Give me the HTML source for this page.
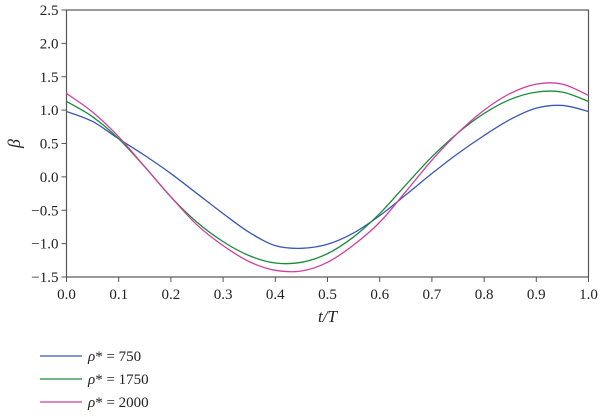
<!DOCTYPE html>
<html><head><meta charset="utf-8"><style>
body{margin:0;background:#fff;}
svg{display:block;font-family:"Liberation Serif",serif;}
</style></head><body>
<svg id="c" width="600" height="417" viewBox="0 0 600 417"></svg>
<script>
const tVals=[0,0.05,0.1,0.15,0.2,0.25,0.3,0.35,0.4,0.45,0.5,0.55,0.6,0.65,0.7,0.75,0.8,0.85,0.9,0.95,1.0];
const blue=[0.98,0.83,0.57,0.32,0.05,-0.25,-0.55,-0.83,-1.03,-1.07,-1.01,-0.84,-0.58,-0.27,0.05,0.35,0.62,0.86,1.03,1.07,0.98];
const green=[1.13,0.9,0.57,0.15,-0.3,-0.68,-0.97,-1.18,-1.29,-1.28,-1.15,-0.9,-0.55,-0.12,0.3,0.66,0.95,1.16,1.27,1.27,1.13];
const pink=[1.25,0.97,0.6,0.15,-0.3,-0.72,-1.03,-1.27,-1.4,-1.41,-1.28,-1.02,-0.68,-0.22,0.25,0.66,1.0,1.25,1.39,1.39,1.22];
const seriesNames=["ρ* = 750","ρ* = 1750","ρ* = 2000"];
const colors=["#3a57b5","#1a8a3a","#d03fa0"];
const xTicks=[0,0.1,0.2,0.3,0.4,0.5,0.6,0.7,0.8,0.9,1.0];
const yTicks=[-1.5,-1.0,-0.5,0.0,0.5,1.0,1.5,2.0,2.5];
const L=66.5,R=588.5,T=10,B=277;
const X=v=>L+v*(R-L);
const Y=v=>T+(2.5-v)/4*(B-T);
const svg=document.getElementById('c');
const NS="http://www.w3.org/2000/svg";
function mk(tag,attrs,parent){const e=document.createElementNS(NS,tag);for(const k in attrs)e.setAttribute(k,attrs[k]);(parent||svg).appendChild(e);return e;}
const frame=mk('rect',{x:L,y:T,width:R-L,height:B-T,fill:'none',stroke:'#555','stroke-width':1.2});


xTicks.forEach(v=>{
  const l=mk('line',{x1:X(v),x2:X(v),y1:B,y2:B+5,stroke:'#555'});
  
  
  const t=mk('text',{x:X(v),y:B+22,'text-anchor':'middle','font-size':15,fill:'#222'});
  t.textContent=v.toFixed(1);
  
  
});
yTicks.forEach(v=>{
  const l=mk('line',{x1:L-5,x2:L,y1:Y(v),y2:Y(v),stroke:'#555'});
  
  
  const t=mk('text',{x:L-8,y:Y(v)+5,'text-anchor':'end','font-size':15,fill:'#222'});
  t.textContent=(v<0?'\u2212':'')+Math.abs(v).toFixed(1);
  
  
});
const xt=mk('text',{x:(L+R)/2,y:B+45,'text-anchor':'middle','font-size':17,'font-style':'italic',fill:'#222'});
xt.textContent='t/T';


const yt=mk('text',{x:0,y:0,transform:`translate(20,${(T+B)/2}) rotate(-90)`,'text-anchor':'middle','font-size':18,'font-style':'italic',fill:'#222'});
yt.textContent='β';


function path(vals){
  const p=tVals.map((t,i)=>[X(t),Y(vals[i])]);
  let d=`M${p[0][0]},${p[0][1]}`;
  for(let i=0;i<p.length-1;i++){
    const p0=p[Math.max(0,i-1)],p1=p[i],p2=p[i+1],p3=p[Math.min(p.length-1,i+2)];
    const c1=[p1[0]+(p2[0]-p0[0])/6,p1[1]+(p2[1]-p0[1])/6];
    const c2=[p2[0]-(p3[0]-p1[0])/6,p2[1]-(p3[1]-p1[1])/6];
    d+=`C${c1[0]},${c1[1]} ${c2[0]},${c2[1]} ${p2[0]},${p2[1]}`;
  }
  return d;
}
[blue,green,pink].forEach((s,i)=>{
  const p=mk('path',{d:path(s),fill:'none',stroke:colors[i],'stroke-width':1.3});
  
  
  const g=mk('g',{});
  
  
  const y=356+i*23;
  mk('line',{x1:40,x2:82,y1:y,y2:y,stroke:colors[i],'stroke-width':1.3},g);
  const t=mk('text',{x:88,y:y+5,'font-size':15,fill:'#222'},g);
  const parts=seriesNames[i].split('ρ');
  const ts=mk('tspan',{'font-style':'italic'},t);ts.textContent='ρ';
  const ts2=mk('tspan',{},t);ts2.textContent=parts[1];
});
</script>
</body></html>
